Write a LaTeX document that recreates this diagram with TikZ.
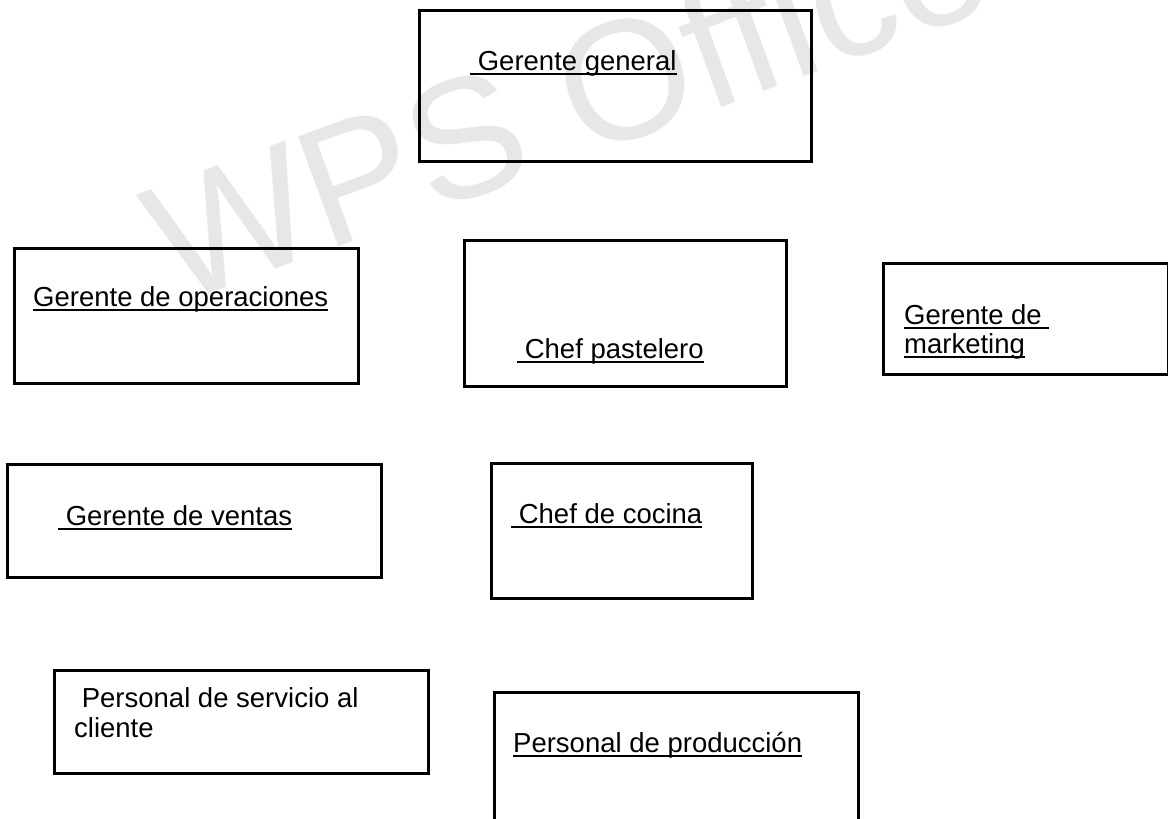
\documentclass[tikz,border=0pt]{standalone}
\usepackage{fontspec}
\setmainfont{Liberation Sans}
\definecolor{wmgray}{RGB}{231,231,231}
\newcommand\ulx[1]{\setbox0=\hbox{#1}\rlap{\rule[-5pt]{\wd0}{2pt}}\box0}
\tikzset{
  boxx/.style={draw=black, line width=2.6pt, inner sep=0pt, anchor=north west},
  lbl/.style={inner sep=0pt, anchor=base west, text=black, font=\fontsize{27.5}{33}\selectfont},
  wm/.style={inner sep=0pt, anchor=base west, text=wmgray, font=\fontsize{170}{200}\selectfont, rotate=20}
}
\begin{document}
\begin{tikzpicture}[x=1pt,y=-1pt]
\clip (0,0) rectangle (1168,819);
\fill[white] (0,0) rectangle (1168,819);
% watermark
\node[wm] (wmark) at (175,306) {WPS Office};
% boxes
\node[boxx, minimum width=392pt, minimum height=151pt] (gg)  at (418,9)   {};
\node[boxx, minimum width=344pt, minimum height=135pt] (ops) at (13,247)  {};
\node[boxx, minimum width=322pt, minimum height=146pt] (pas) at (463,239) {};
\node[boxx, minimum width=285pt, minimum height=111pt] (mkt) at (882,262) {};
\node[boxx, minimum width=374pt, minimum height=113pt] (ven) at (6,463)   {};
\node[boxx, minimum width=261pt, minimum height=135pt] (coc) at (490,462) {};
\node[boxx, minimum width=374pt, minimum height=103pt] (ser) at (53,669)  {};
\node[boxx, minimum width=364pt, minimum height=160pt] (pro) at (493,691) {};
% labels
\node[lbl] (tgg)   at (470,70)  {\ulx{\ Gerente general}};
\node[lbl] (tops)  at (33,306)  {\ulx{Gerente de operaciones}};
\node[lbl] (tpas)  at (517,358) {\ulx{\ Chef pastelero}};
\node[lbl] (tmkt1) at (904,324) {\ulx{Gerente de\ }};
\node[lbl] (tmkt2) at (904,353) {\ulx{marketing}};
\node[lbl] (tven)  at (58,525)  {\ulx{\ Gerente de ventas}};
\node[lbl] (tcoc)  at (511,523) {\ulx{\ Chef de cocina}};
\node[lbl] (tser1) at (74,707)  {\ Personal de servicio al};
\node[lbl] (tser2) at (74,737)  {cliente};
\node[lbl] (tpro)  at (513,752) {\ulx{Personal de producción}};
\end{tikzpicture}
\end{document}
